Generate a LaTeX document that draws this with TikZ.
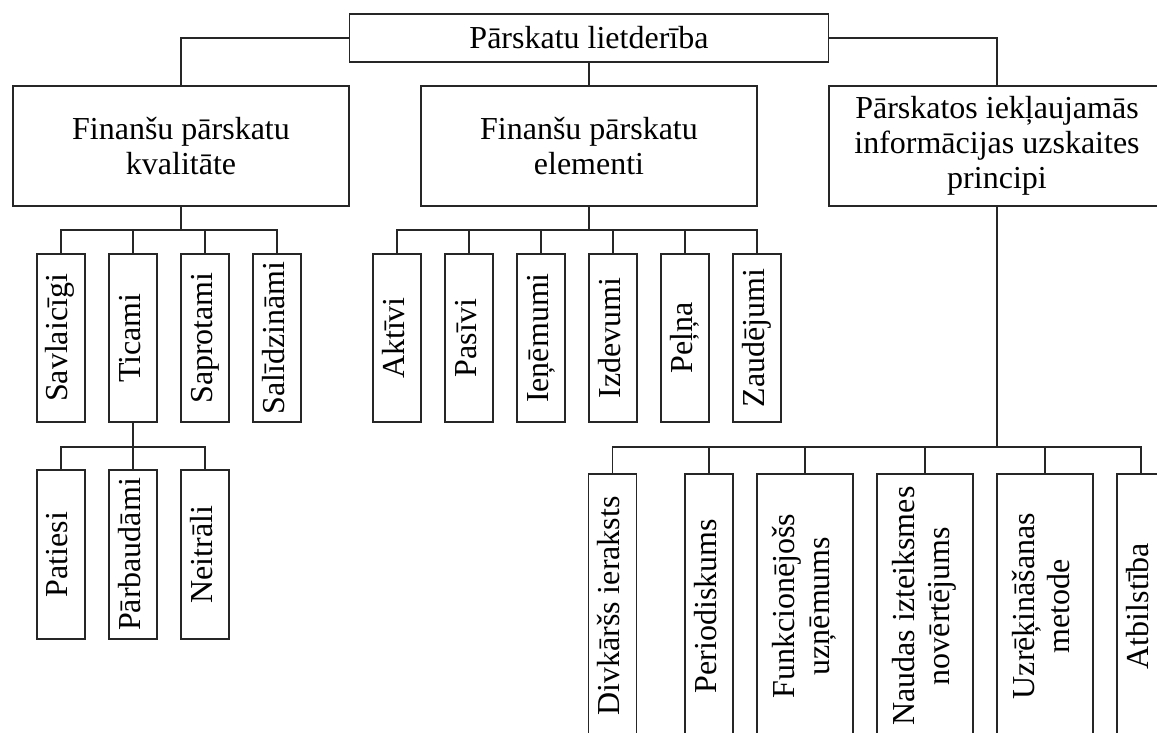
\documentclass[tikz,border=0pt]{standalone}
\usepackage{fontspec}
\setmainfont{Liberation Serif}
\usepackage{graphicx}
\newcommand{\rottext}[1]{\rotatebox{90}{\begin{tabular}{@{}c@{}}#1\end{tabular}}}
\tikzset{
  bx/.style={draw=black!85, line width=1.4pt, inner sep=0pt, align=center, fill=white, text=black,
             font=\fontsize{32}{35}\selectfont},
  big/.style={bx, minimum width=336pt, minimum height=120pt},
  vb/.style={bx, minimum width=48pt, minimum height=168pt},
  vbs/.style={bx, minimum width=48pt, minimum height=169pt},
  vbl/.style={bx, minimum height=264pt},
  ln/.style={draw=black!85, line width=1.4pt}
}
\begin{document}
\begin{tikzpicture}[x=1pt,y=-1pt]
\fill[white] (0,0) rectangle (1157,732);
\useasboundingbox (0,0) rectangle (1157,732);

\node[bx, minimum width=479pt, minimum height=48pt] (root) at (589,38) {Pārskatu lietderība};
\node[big] (b1) at (181,146) {Finanšu pārskatu\\kvalitāte};
\node[big] (b2) at (589,146) {Finanšu pārskatu\\elementi};
\node[big] (b3) at (997,146) {Pārskatos iekļaujamās\\informācijas uzskaites\\principi};

\coordinate (bar1) at (0,230);
\coordinate (bar2) at (0,447);

% children of b1
\node[vb] (savl) at (61,338)  {\rottext{Savlaicīgi}};
\node[vb] (tic)  at (133,338) {\rottext{Ticami}};
\node[vb] (sapr) at (205,338) {\rottext{Saprotami}};
\node[vb] (sal)  at (277,338) {\rottext{Salīdzināmi}};

% children of b2
\node[vb] (akt) at (397,338) {\rottext{Aktīvi}};
\node[vb] (pas) at (469,338) {\rottext{Pasīvi}};
\node[vb] (ien) at (541,338) {\rottext{Ieņēmumi}};
\node[vb] (izd) at (613,338) {\rottext{Izdevumi}};
\node[vb] (pel) at (685,338) {\rottext{Peļņa}};
\node[vb] (zau) at (757,338) {\rottext{Zaudējumi}};

% children of Ticami
\node[vbs] (pat) at (61,554.5)  {\rottext{Patiesi}};
\node[vbs] (par) at (133,554.5) {\rottext{Pārbaudāmi}};
\node[vbs] (nei) at (205,554.5) {\rottext{Neitrāli}};

% children of b3
\node[vbl, minimum width=48pt] (div) at (612.5,606) {\rottext{Divkāršs ieraksts}};
\node[vbl, minimum width=48pt] (per) at (709,606)   {\rottext{Periodiskums}};
\node[vbl, minimum width=96pt] (fun) at (805,606)   {\rottext{Funkcionējošs\\uzņēmums}};
\node[vbl, minimum width=96pt] (nau) at (925,606)   {\rottext{Naudas izteiksmes\\novērtējums}};
\node[vbl, minimum width=96pt] (uzr) at (1045,606)  {\rottext{Uzrēķināšanas\\metode}};
\node[vbl, minimum width=48pt] (atb) at (1141,606)  {\rottext{Atbilstība}};

% connectors
\draw[ln] (root.west) -| (b1.north);
\draw[ln] (root.south) -- (b2.north);
\draw[ln] (root.east) -| (b3.north);

\foreach \c in {savl,tic,sapr,sal}
  \draw[ln] (b1.south) -- (b1.south |- bar1) -| (\c.north);
\foreach \c in {akt,pas,ien,izd,pel,zau}
  \draw[ln] (b2.south) -- (b2.south |- bar1) -| (\c.north);
\foreach \c in {pat,par,nei}
  \draw[ln] (tic.south) -- (tic.south |- bar2) -| (\c.north);
\foreach \c in {div,per,fun,nau,uzr,atb}
  \draw[ln] (b3.south) -- (b3.south |- bar2) -| (\c.north);
\end{tikzpicture}
\end{document}
